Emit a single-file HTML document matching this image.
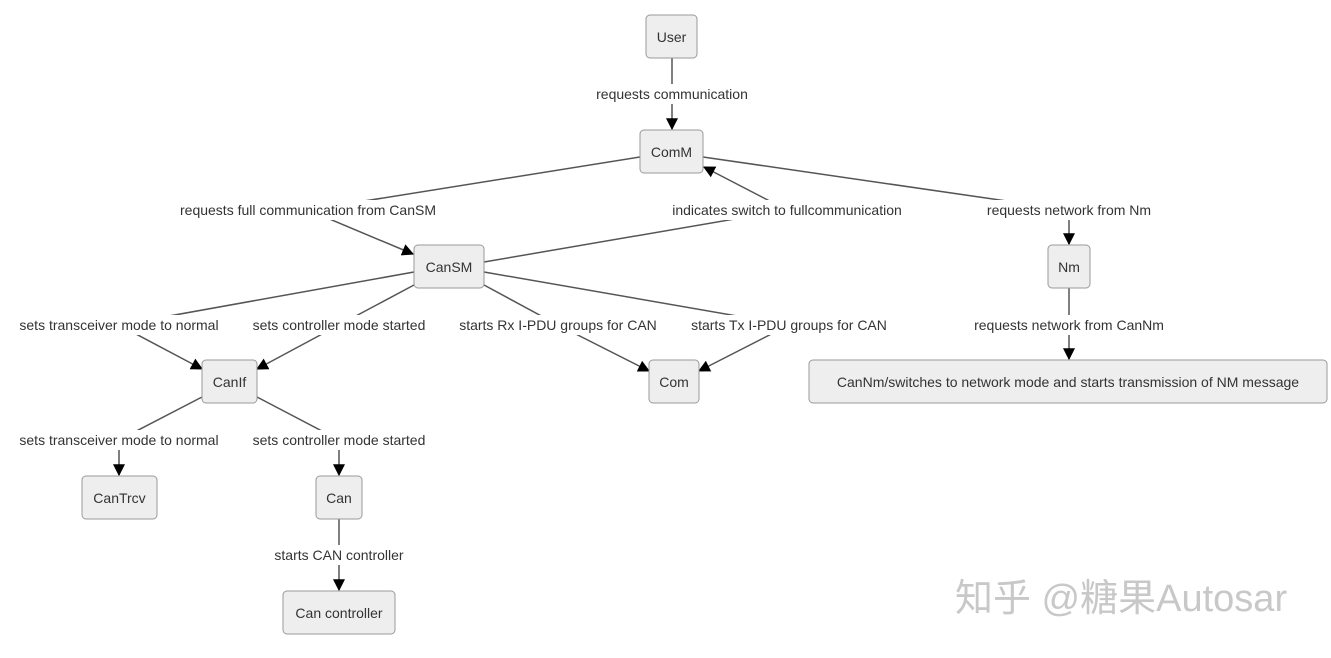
<!DOCTYPE html>
<html><head><meta charset="utf-8"><style>
body{margin:0;background:#fff;width:1331px;height:653px;overflow:hidden}
svg text{font-family:"Liberation Sans",Arial,sans-serif;font-size:14px;fill:#333}
.n{fill:#eee;stroke:#999;stroke-width:1}
.e{fill:none;stroke:#555;stroke-width:1.5}
.lb{fill:#fff}
</style></head><body>
<svg width="1331" height="653" xmlns="http://www.w3.org/2000/svg">
<defs><marker id="a" viewBox="0 0 10 10" refX="9" refY="5" markerWidth="8" markerHeight="8" orient="auto-start-reverse"><path d="M0,0L10,5L0,10z" fill="#000"/></marker></defs>
<g class="e">
<polyline points="672,58 672,94 672,129" marker-end="url(#a)"/>
<polyline points="640,157 308,210 413,254" marker-end="url(#a)"/>
<polyline points="484,262 787,210 704,167" marker-end="url(#a)"/>
<polyline points="703,157 1069,210 1069,244" marker-end="url(#a)"/>
<polyline points="414,272 119,325 202,369" marker-end="url(#a)"/>
<polyline points="414,285 339,325 257,369" marker-end="url(#a)"/>
<polyline points="484,285 558,325 649,371" marker-end="url(#a)"/>
<polyline points="484,272 789,325 699,371" marker-end="url(#a)"/>
<polyline points="1069,288 1069,325 1069,359" marker-end="url(#a)"/>
<polyline points="202,397 119,440 119,475" marker-end="url(#a)"/>
<polyline points="257,397 339,440 339,475" marker-end="url(#a)"/>
<polyline points="339,519 339,555 339,590" marker-end="url(#a)"/>
</g>
<g class="lb">
<rect x="588" y="84" width="168" height="20"/>
<rect x="168" y="200" width="280" height="20"/>
<rect x="662" y="200" width="250" height="20"/>
<rect x="978" y="200" width="182" height="20"/>
<rect x="10" y="315" width="218" height="20"/>
<rect x="244" y="315" width="190" height="20"/>
<rect x="450" y="315" width="216" height="20"/>
<rect x="682" y="315" width="214" height="20"/>
<rect x="965" y="315" width="208" height="20"/>
<rect x="10" y="430" width="218" height="20"/>
<rect x="244" y="430" width="190" height="20"/>
<rect x="267" y="545" width="144" height="20"/>
</g>
<g text-anchor="middle">
<text x="672" y="99">requests communication</text>
<text x="308" y="215">requests full communication from CanSM</text>
<text x="787" y="215">indicates switch to fullcommunication</text>
<text x="1069" y="215">requests network from Nm</text>
<text x="119" y="330">sets transceiver mode to normal</text>
<text x="339" y="330">sets controller mode started</text>
<text x="558" y="330">starts Rx I-PDU groups for CAN</text>
<text x="789" y="330">starts Tx I-PDU groups for CAN</text>
<text x="1069" y="330">requests network from CanNm</text>
<text x="119" y="445">sets transceiver mode to normal</text>
<text x="339" y="445">sets controller mode started</text>
<text x="339" y="560">starts CAN controller</text>
</g>
<g>
<rect class="n" x="646" y="15" width="51" height="43" rx="4"/>
<rect class="n" x="640" y="130" width="63" height="43" rx="4"/>
<rect class="n" x="414" y="245" width="70" height="43" rx="4"/>
<rect class="n" x="1048" y="245" width="42" height="43" rx="4"/>
<rect class="n" x="202" y="360" width="55" height="43" rx="4"/>
<rect class="n" x="649" y="360" width="50" height="43" rx="4"/>
<rect class="n" x="809" y="360" width="518" height="43" rx="4"/>
<rect class="n" x="82" y="476" width="75" height="43" rx="4"/>
<rect class="n" x="316" y="476" width="46" height="43" rx="4"/>
<rect class="n" x="283" y="591" width="112" height="43" rx="4"/>
</g>
<g text-anchor="middle">
<text x="671.5" y="42">User</text>
<text x="671.5" y="157">ComM</text>
<text x="449" y="272">CanSM</text>
<text x="1069" y="272">Nm</text>
<text x="229.5" y="387">CanIf</text>
<text x="674" y="387">Com</text>
<text x="1068" y="387">CanNm/switches to network mode and starts transmission of NM message</text>
<text x="119.5" y="503">CanTrcv</text>
<text x="339" y="503">Can</text>
<text x="339" y="618">Can controller</text>
</g>
<text x="955" y="611" style='font-family:"Liberation Sans","Noto Sans CJK SC",sans-serif;font-size:38px;fill:#c8c8c8'>知乎 @糖果Autosar</text>
</svg>
</body></html>
